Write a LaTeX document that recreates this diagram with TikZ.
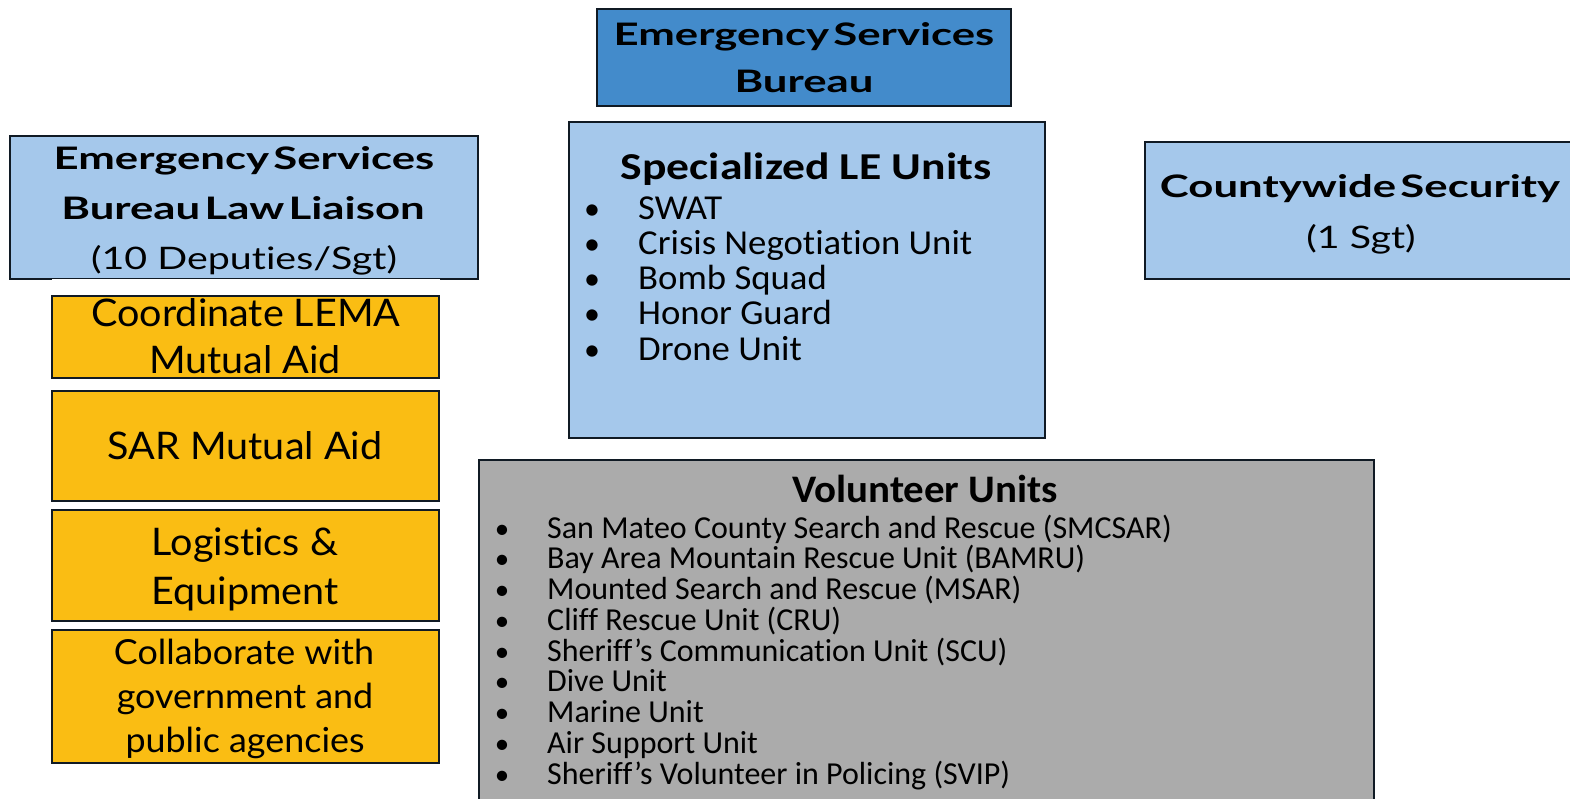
\documentclass[tikz,border=0pt]{standalone}
\usepackage{fontspec}
\setmainfont[Ligatures=NoCommon]{Lato}
\newfontfamily\latobw[FakeStretch=1.41,WordSpace=0.4,Ligatures=NoCommon]{Lato}
\newfontfamily\latorw[FakeStretch=1.27,Ligatures=NoCommon]{Lato}
\newfontfamily\latoo[FakeStretch=1.04,Ligatures=NoCommon]{Lato}
\newfontfamily\calibw[FakeStretch=1.05,Ligatures=NoCommon]{Carlito}
\newfontfamily\calibt[FakeStretch=1.2,Ligatures=NoCommon]{Carlito}
\newfontfamily\calibv[FakeStretch=1.05,Ligatures=NoCommon]{Carlito}
\newfontfamily\calib[Ligatures=NoCommon]{Carlito}
\definecolor{topblue}{HTML}{438BCB}
\definecolor{liteblue}{HTML}{A5C8EB}
\definecolor{orange1}{HTML}{FABD13}
\definecolor{gray1}{HTML}{ABABAB}
\definecolor{edge}{HTML}{101A24}
\tikzset{
  box/.style={draw=edge, line width=2.8pt, inner sep=0pt, outer sep=0pt, rectangle},
  ttl/.style={font=\latobw\bfseries\fontsize{31}{47}\selectfont, align=center, inner sep=0pt},
  reg/.style={font=\latorw\fontsize{31}{47}\selectfont, align=center, inner sep=0pt},
  org/.style={font=\latoo\fontsize{38}{47}\selectfont, anchor=base, inner sep=0pt},
  orgs/.style={font=\latoo\fontsize{34.5}{44}\selectfont, anchor=base, inner sep=0pt},
  leitem/.style={font=\calibw\fontsize{35}{35}\selectfont, anchor=base west, inner sep=0pt},
  lebul/.style={font=\calib\fontsize{32}{35}\selectfont, anchor=base, inner sep=0pt},
  voitem/.style={font=\calib\fontsize{32}{31}\selectfont, anchor=base west, inner sep=0pt},
  vobul/.style={font=\calib\fontsize{29}{31}\selectfont, anchor=base, inner sep=0pt},
}
\begin{document}
\begin{tikzpicture}[x=1pt,y=-1pt]
\useasboundingbox (0,0) rectangle (1570,798);
% boxes
\node[box, fill=topblue, minimum width=414pt, minimum height=97pt] (esb) at (804,57.5) {};
\node[box, fill=liteblue, minimum width=468pt, minimum height=143pt] (law) at (244,207.5) {};
\node[box, fill=liteblue, minimum width=476pt, minimum height=316pt] (le) at (807,280) {};
\node[box, fill=liteblue, minimum width=440pt, minimum height=137pt] (cw) at (1365,210.5) {};
\node[box, fill=gray1, minimum width=895pt, minimum height=355pt] (vol) at (926.5,637.5) {};
\fill[white] (52,278.6) rectangle (440,281.5);
\node[box, fill=orange1, minimum width=387pt, minimum height=82pt] (o1) at (245.5,337) {};
\node[box, fill=orange1, minimum width=387pt, minimum height=110pt] (o2) at (245.5,446) {};
\node[box, fill=orange1, minimum width=387pt, minimum height=111pt] (o3) at (245.5,565.5) {};
\node[box, fill=orange1, minimum width=387pt, minimum height=133pt] (o4) at (245.5,696.5) {};
% texts
\node[ttl] (esbt) at (804,57.5) {Emergency Services\\Bureau};
\node[ttl, anchor=base] (lawt1) at (244,169) {Emergency Services};
\node[ttl, anchor=base] (lawt2) at (243,219) {Bureau Law Liaison};
\node[reg, anchor=base] (lawt3) at (244,269) {(10 Deputies/Sgt)};
\node[ttl, anchor=base] (cwt1) at (1360,197) {Countywide Security};
\node[reg, anchor=base] (cwt2) at (1361,248) {(1 Sgt)};
\node[org] (o1a) at (246,326) {Coordinate LEMA};
\node[org] (o1b) at (245,373) {Mutual Aid};
\node[org] (o2t) at (245,459.5) {SAR Mutual Aid};
\node[org] (o3a) at (245,555) {Logistics \&};
\node[org] (o3b) at (245,604) {Equipment};
\node[orgs] (o4a) at (244,664) {Collaborate with};
\node[orgs] (o4b) at (245,708) {government and};
\node[orgs] (o4c) at (245,752) {public agencies};
\node[inner sep=0pt, anchor=base, font=\calibt\bfseries\fontsize{38}{40}\selectfont] (let) at (806,179.5) {Specialized LE Units};
\foreach \t [count=\i] in {SWAT,Crisis Negotiation Unit,Bomb Squad,Honor Guard,Drone Unit}{
  \node[lebul] (leb\i) at (592,219+35.3*\i-35.3) {\textbullet};
  \node[leitem] (lei\i) at (638,219+35.3*\i-35.3) {\t};
}
\node[inner sep=0pt, anchor=base, font=\calibv\bfseries\fontsize{39}{40}\selectfont] (volt) at (925,502) {Volunteer Units};
\foreach \t [count=\i] in {San Mateo County Search and Rescue (SMCSAR),Bay Area Mountain Rescue Unit (BAMRU),Mounted Search and Rescue (MSAR),Cliff Rescue Unit (CRU),Sheriff’s Communication Unit (SCU),Dive Unit,Marine Unit,Air Support Unit,Sheriff’s Volunteer in Policing (SVIP)}{
  \node[vobul] (vob\i) at (502,538+30.75*\i-30.75) {\textbullet};
  \node[voitem] (voi\i) at (547,538+30.75*\i-30.75) {\t};
}
\end{tikzpicture}
\end{document}
